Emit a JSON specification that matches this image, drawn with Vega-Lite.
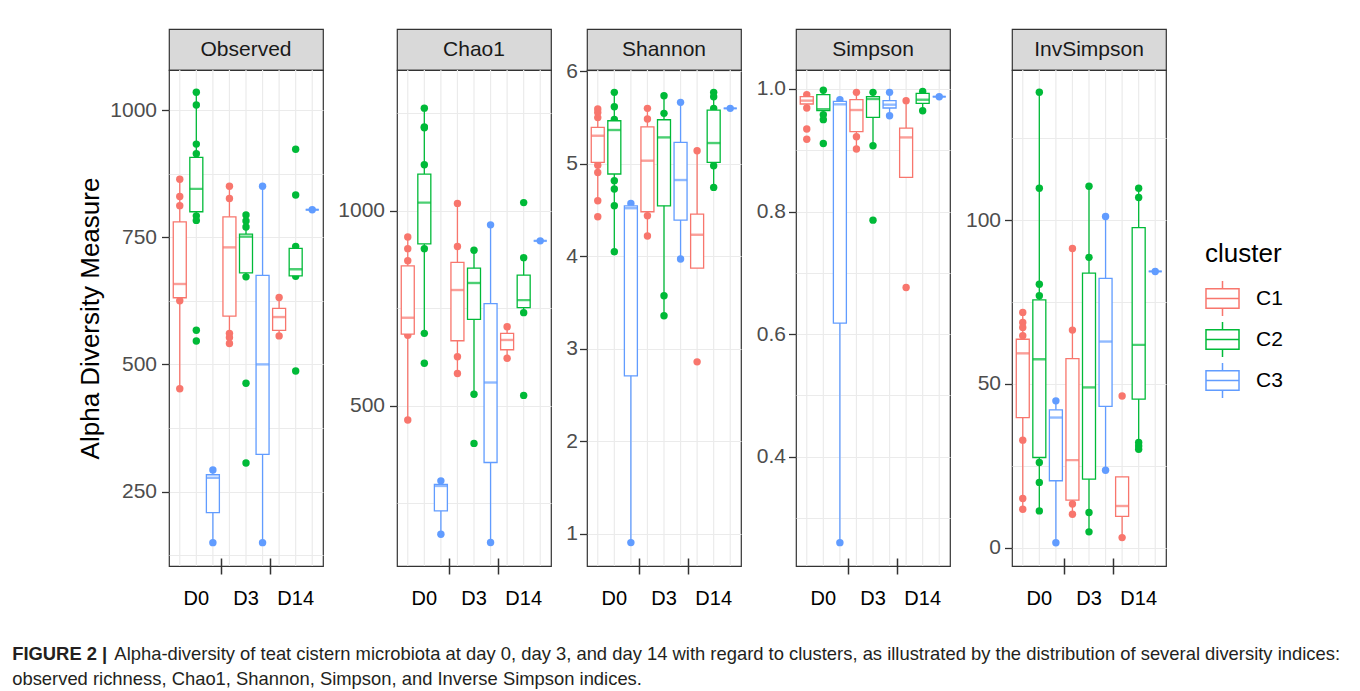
{
"$schema": "https://vega.github.io/schema/vega-lite/v6.json",
"padding": {"left": 12, "top": 28, "right": 5, "bottom": 5},
"background": "white",
"datasets": {
"box": [
{"m":"Observed","day":"D0","cl":"C1","lo":452,"q1":631,"md":658,"q3":780,"hi":864},
{"m":"Observed","day":"D0","cl":"C2","lo":783,"q1":800,"md":845,"q3":907,"hi":1035},
{"m":"Observed","day":"D0","cl":"C3","lo":149.5,"q1":208.5,"md":277,"q3":283,"hi":292.5},
{"m":"Observed","day":"D3","cl":"C1","lo":541,"q1":595,"md":730,"q3":790,"hi":850},
{"m":"Observed","day":"D3","cl":"C2","lo":672,"q1":680,"md":751,"q3":756,"hi":793.5},
{"m":"Observed","day":"D3","cl":"C3","lo":149.5,"q1":323,"md":500,"q3":675,"hi":850},
{"m":"Observed","day":"D14","cl":"C1","lo":556,"q1":567,"md":593,"q3":610,"hi":631.5},
{"m":"Observed","day":"D14","cl":"C2","lo":673,"q1":674,"md":687,"q3":728,"hi":732},
{"m":"Observed","day":"D14","cl":"C3","lo":804,"q1":804,"md":804,"q3":804,"hi":804},
{"m":"Chao1","day":"D0","cl":"C1","lo":464,"q1":684,"md":726,"q3":859,"hi":940},
{"m":"Chao1","day":"D0","cl":"C2","lo":686,"q1":915,"md":1021,"q3":1094,"hi":1263},
{"m":"Chao1","day":"D0","cl":"C3","lo":171,"q1":231,"md":295,"q3":299,"hi":308},
{"m":"Chao1","day":"D3","cl":"C1","lo":583,"q1":667,"md":797,"q3":868,"hi":1019},
{"m":"Chao1","day":"D3","cl":"C2","lo":530,"q1":722,"md":815,"q3":853,"hi":899},
{"m":"Chao1","day":"D3","cl":"C3","lo":150,"q1":355,"md":560,"q3":762,"hi":964},
{"m":"Chao1","day":"D14","cl":"C1","lo":622,"q1":644,"md":669,"q3":686,"hi":703},
{"m":"Chao1","day":"D14","cl":"C2","lo":739,"q1":752,"md":771,"q3":835,"hi":880},
{"m":"Chao1","day":"D14","cl":"C3","lo":923,"q1":923,"md":923,"q3":923,"hi":923},
{"m":"Shannon","day":"D0","cl":"C1","lo":4.6,"q1":5.015,"md":5.304,"q3":5.394,"hi":5.593},
{"m":"Shannon","day":"D0","cl":"C2","lo":4.049,"q1":4.89,"md":5.366,"q3":5.466,"hi":5.773},
{"m":"Shannon","day":"D0","cl":"C3","lo":0.903,"q1":2.707,"md":4.52,"q3":4.546,"hi":4.571},
{"m":"Shannon","day":"D3","cl":"C1","lo":4.22,"q1":4.482,"md":5.034,"q3":5.4,"hi":5.6},
{"m":"Shannon","day":"D3","cl":"C2","lo":3.356,"q1":4.546,"md":5.286,"q3":5.477,"hi":5.737},
{"m":"Shannon","day":"D3","cl":"C3","lo":3.97,"q1":4.392,"md":4.825,"q3":5.232,"hi":5.665},
{"m":"Shannon","day":"D14","cl":"C1","lo":3.872,"q1":3.872,"md":4.233,"q3":4.457,"hi":5.142},
{"m":"Shannon","day":"D14","cl":"C2","lo":4.745,"q1":5.015,"md":5.225,"q3":5.582,"hi":5.773},
{"m":"Shannon","day":"D14","cl":"C3","lo":5.6,"q1":5.6,"md":5.6,"q3":5.6,"hi":5.6},
{"m":"Simpson","day":"D0","cl":"C1","lo":0.969,"q1":0.9755,"md":0.981,"q3":0.9874,"hi":0.9907},
{"m":"Simpson","day":"D0","cl":"C2","lo":0.95,"q1":0.9646,"md":0.967,"q3":0.9907,"hi":0.998},
{"m":"Simpson","day":"D0","cl":"C3","lo":0.2598,"q1":0.618,"md":0.975,"q3":0.9798,"hi":0.9825},
{"m":"Simpson","day":"D3","cl":"C1","lo":0.902,"q1":0.9303,"md":0.9657,"q3":0.9825,"hi":0.9945},
{"m":"Simpson","day":"D3","cl":"C2","lo":0.9074,"q1":0.9536,"md":0.9837,"q3":0.9874,"hi":0.9945},
{"m":"Simpson","day":"D3","cl":"C3","lo":0.9564,"q1":0.969,"md":0.9744,"q3":0.981,"hi":0.9945},
{"m":"Simpson","day":"D14","cl":"C1","lo":0.8557,"q1":0.8557,"md":0.921,"q3":0.9363,"hi":0.981},
{"m":"Simpson","day":"D14","cl":"C2","lo":0.9646,"q1":0.9765,"md":0.9825,"q3":0.9929,"hi":0.996},
{"m":"Simpson","day":"D14","cl":"C3","lo":0.9874,"q1":0.9874,"md":0.9874,"q3":0.9874,"hi":0.9874},
{"m":"InvSimpson","day":"D0","cl":"C1","lo":11.7,"q1":39.7,"md":59.3,"q3":63.6,"hi":71.8},
{"m":"InvSimpson","day":"D0","cl":"C2","lo":11.2,"q1":27.5,"md":57.5,"q3":75.6,"hi":139},
{"m":"InvSimpson","day":"D0","cl":"C3","lo":1.5,"q1":20.4,"md":39.7,"q3":42.05,"hi":44.8},
{"m":"InvSimpson","day":"D3","cl":"C1","lo":10.2,"q1":14.5,"md":26.7,"q3":57.7,"hi":91.3},
{"m":"InvSimpson","day":"D3","cl":"C2","lo":4.8,"q1":20.9,"md":48.9,"q3":83.8,"hi":110.3},
{"m":"InvSimpson","day":"D3","cl":"C3","lo":23.6,"q1":43.1,"md":62.9,"q3":82.2,"hi":101.1},
{"m":"InvSimpson","day":"D14","cl":"C1","lo":3.05,"q1":9.5,"md":12.7,"q3":21.6,"hi":21.6},
{"m":"InvSimpson","day":"D14","cl":"C2","lo":30,"q1":45.3,"md":61.9,"q3":97.7,"hi":109.7},
{"m":"InvSimpson","day":"D14","cl":"C3","lo":84.3,"q1":84.3,"md":84.3,"q3":84.3,"hi":84.3}
],
"pts": [
{"m":"Observed","day":"D0","cl":"C1","v":864},{"m":"Observed","day":"D0","cl":"C1","v":830},{"m":"Observed","day":"D0","cl":"C1","v":812},{"m":"Observed","day":"D0","cl":"C1","v":625},{"m":"Observed","day":"D0","cl":"C1","v":452},
{"m":"Observed","day":"D0","cl":"C2","v":1035},{"m":"Observed","day":"D0","cl":"C2","v":1010},{"m":"Observed","day":"D0","cl":"C2","v":933},{"m":"Observed","day":"D0","cl":"C2","v":914},{"m":"Observed","day":"D0","cl":"C2","v":792},{"m":"Observed","day":"D0","cl":"C2","v":783},{"m":"Observed","day":"D0","cl":"C2","v":567},{"m":"Observed","day":"D0","cl":"C2","v":546},
{"m":"Observed","day":"D0","cl":"C3","v":292.5},{"m":"Observed","day":"D0","cl":"C3","v":149.5},
{"m":"Observed","day":"D3","cl":"C1","v":850},{"m":"Observed","day":"D3","cl":"C1","v":826},{"m":"Observed","day":"D3","cl":"C1","v":561},{"m":"Observed","day":"D3","cl":"C1","v":553},{"m":"Observed","day":"D3","cl":"C1","v":541},
{"m":"Observed","day":"D3","cl":"C2","v":793.5},{"m":"Observed","day":"D3","cl":"C2","v":782},{"m":"Observed","day":"D3","cl":"C2","v":770},{"m":"Observed","day":"D3","cl":"C2","v":672},{"m":"Observed","day":"D3","cl":"C2","v":463},{"m":"Observed","day":"D3","cl":"C2","v":306},
{"m":"Observed","day":"D3","cl":"C3","v":850},{"m":"Observed","day":"D3","cl":"C3","v":149.5},
{"m":"Observed","day":"D14","cl":"C1","v":631.5},{"m":"Observed","day":"D14","cl":"C1","v":556},
{"m":"Observed","day":"D14","cl":"C2","v":923},{"m":"Observed","day":"D14","cl":"C2","v":833},{"m":"Observed","day":"D14","cl":"C2","v":732},{"m":"Observed","day":"D14","cl":"C2","v":673},{"m":"Observed","day":"D14","cl":"C2","v":487},
{"m":"Observed","day":"D14","cl":"C3","v":804},
{"m":"Chao1","day":"D0","cl":"C1","v":933},{"m":"Chao1","day":"D0","cl":"C1","v":903},{"m":"Chao1","day":"D0","cl":"C1","v":872},{"m":"Chao1","day":"D0","cl":"C1","v":681},{"m":"Chao1","day":"D0","cl":"C1","v":464},
{"m":"Chao1","day":"D0","cl":"C2","v":1263},{"m":"Chao1","day":"D0","cl":"C2","v":1215},{"m":"Chao1","day":"D0","cl":"C2","v":1213},{"m":"Chao1","day":"D0","cl":"C2","v":1118},{"m":"Chao1","day":"D0","cl":"C2","v":903},{"m":"Chao1","day":"D0","cl":"C2","v":686},{"m":"Chao1","day":"D0","cl":"C2","v":609.5},
{"m":"Chao1","day":"D0","cl":"C3","v":308},{"m":"Chao1","day":"D0","cl":"C3","v":171},
{"m":"Chao1","day":"D3","cl":"C1","v":1019},{"m":"Chao1","day":"D3","cl":"C1","v":908.5},{"m":"Chao1","day":"D3","cl":"C1","v":626},{"m":"Chao1","day":"D3","cl":"C1","v":583},
{"m":"Chao1","day":"D3","cl":"C2","v":899},{"m":"Chao1","day":"D3","cl":"C2","v":530},{"m":"Chao1","day":"D3","cl":"C2","v":404},
{"m":"Chao1","day":"D3","cl":"C3","v":964},{"m":"Chao1","day":"D3","cl":"C3","v":150},
{"m":"Chao1","day":"D14","cl":"C1","v":703},{"m":"Chao1","day":"D14","cl":"C1","v":622},
{"m":"Chao1","day":"D14","cl":"C2","v":1021},{"m":"Chao1","day":"D14","cl":"C2","v":880},{"m":"Chao1","day":"D14","cl":"C2","v":739},{"m":"Chao1","day":"D14","cl":"C2","v":527},
{"m":"Chao1","day":"D14","cl":"C3","v":923},
{"m":"Shannon","day":"D0","cl":"C1","v":5.593},{"m":"Shannon","day":"D0","cl":"C1","v":5.556},{"m":"Shannon","day":"D0","cl":"C1","v":5.5},{"m":"Shannon","day":"D0","cl":"C1","v":4.985},{"m":"Shannon","day":"D0","cl":"C1","v":4.907},{"m":"Shannon","day":"D0","cl":"C1","v":4.6},{"m":"Shannon","day":"D0","cl":"C1","v":4.427},
{"m":"Shannon","day":"D0","cl":"C2","v":5.773},{"m":"Shannon","day":"D0","cl":"C2","v":5.618},{"m":"Shannon","day":"D0","cl":"C2","v":5.48},{"m":"Shannon","day":"D0","cl":"C2","v":4.817},{"m":"Shannon","day":"D0","cl":"C2","v":4.727},{"m":"Shannon","day":"D0","cl":"C2","v":4.546},{"m":"Shannon","day":"D0","cl":"C2","v":4.049},
{"m":"Shannon","day":"D0","cl":"C3","v":4.571},{"m":"Shannon","day":"D0","cl":"C3","v":0.903},
{"m":"Shannon","day":"D3","cl":"C1","v":5.6},{"m":"Shannon","day":"D3","cl":"C1","v":5.485},{"m":"Shannon","day":"D3","cl":"C1","v":4.438},{"m":"Shannon","day":"D3","cl":"C1","v":4.22},
{"m":"Shannon","day":"D3","cl":"C2","v":5.737},{"m":"Shannon","day":"D3","cl":"C2","v":5.546},{"m":"Shannon","day":"D3","cl":"C2","v":3.573},{"m":"Shannon","day":"D3","cl":"C2","v":3.356},
{"m":"Shannon","day":"D3","cl":"C3","v":5.665},{"m":"Shannon","day":"D3","cl":"C3","v":3.97},
{"m":"Shannon","day":"D14","cl":"C1","v":5.142},{"m":"Shannon","day":"D14","cl":"C1","v":2.858},
{"m":"Shannon","day":"D14","cl":"C2","v":5.773},{"m":"Shannon","day":"D14","cl":"C2","v":5.726},{"m":"Shannon","day":"D14","cl":"C2","v":5.6},{"m":"Shannon","day":"D14","cl":"C2","v":4.98},{"m":"Shannon","day":"D14","cl":"C2","v":4.745},
{"m":"Shannon","day":"D14","cl":"C3","v":5.6},
{"m":"Simpson","day":"D0","cl":"C1","v":0.9907},{"m":"Simpson","day":"D0","cl":"C1","v":0.969},{"m":"Simpson","day":"D0","cl":"C1","v":0.9347},{"m":"Simpson","day":"D0","cl":"C1","v":0.918},
{"m":"Simpson","day":"D0","cl":"C2","v":0.998},{"m":"Simpson","day":"D0","cl":"C2","v":0.958},{"m":"Simpson","day":"D0","cl":"C2","v":0.95},{"m":"Simpson","day":"D0","cl":"C2","v":0.9112},
{"m":"Simpson","day":"D0","cl":"C3","v":0.9825},{"m":"Simpson","day":"D0","cl":"C3","v":0.2598},
{"m":"Simpson","day":"D3","cl":"C1","v":0.9945},{"m":"Simpson","day":"D3","cl":"C1","v":0.922},{"m":"Simpson","day":"D3","cl":"C1","v":0.902},
{"m":"Simpson","day":"D3","cl":"C2","v":0.9945},{"m":"Simpson","day":"D3","cl":"C2","v":0.9074},{"m":"Simpson","day":"D3","cl":"C2","v":0.786},
{"m":"Simpson","day":"D3","cl":"C3","v":0.9945},{"m":"Simpson","day":"D3","cl":"C3","v":0.9564},
{"m":"Simpson","day":"D14","cl":"C1","v":0.981},{"m":"Simpson","day":"D14","cl":"C1","v":0.676},
{"m":"Simpson","day":"D14","cl":"C2","v":0.996},{"m":"Simpson","day":"D14","cl":"C2","v":0.9646},
{"m":"Simpson","day":"D14","cl":"C3","v":0.9874},
{"m":"InvSimpson","day":"D0","cl":"C1","v":71.8},{"m":"InvSimpson","day":"D0","cl":"C1","v":68.7},{"m":"InvSimpson","day":"D0","cl":"C1","v":67.2},{"m":"InvSimpson","day":"D0","cl":"C1","v":64.7},{"m":"InvSimpson","day":"D0","cl":"C1","v":32.8},{"m":"InvSimpson","day":"D0","cl":"C1","v":15},{"m":"InvSimpson","day":"D0","cl":"C1","v":11.7},
{"m":"InvSimpson","day":"D0","cl":"C2","v":139},{"m":"InvSimpson","day":"D0","cl":"C2","v":109.7},{"m":"InvSimpson","day":"D0","cl":"C2","v":80.4},{"m":"InvSimpson","day":"D0","cl":"C2","v":76.9},{"m":"InvSimpson","day":"D0","cl":"C2","v":26},{"m":"InvSimpson","day":"D0","cl":"C2","v":19.9},{"m":"InvSimpson","day":"D0","cl":"C2","v":11.2},
{"m":"InvSimpson","day":"D0","cl":"C3","v":44.8},{"m":"InvSimpson","day":"D0","cl":"C3","v":1.5},
{"m":"InvSimpson","day":"D3","cl":"C1","v":91.3},{"m":"InvSimpson","day":"D3","cl":"C1","v":66.4},{"m":"InvSimpson","day":"D3","cl":"C1","v":13.3},{"m":"InvSimpson","day":"D3","cl":"C1","v":10.2},
{"m":"InvSimpson","day":"D3","cl":"C2","v":110.3},{"m":"InvSimpson","day":"D3","cl":"C2","v":88.6},{"m":"InvSimpson","day":"D3","cl":"C2","v":10.7},{"m":"InvSimpson","day":"D3","cl":"C2","v":4.8},
{"m":"InvSimpson","day":"D3","cl":"C3","v":101.1},{"m":"InvSimpson","day":"D3","cl":"C3","v":23.6},
{"m":"InvSimpson","day":"D14","cl":"C1","v":46.3},{"m":"InvSimpson","day":"D14","cl":"C1","v":3.05},
{"m":"InvSimpson","day":"D14","cl":"C2","v":109.7},{"m":"InvSimpson","day":"D14","cl":"C2","v":106.9},{"m":"InvSimpson","day":"D14","cl":"C2","v":32.1},{"m":"InvSimpson","day":"D14","cl":"C2","v":31},{"m":"InvSimpson","day":"D14","cl":"C2","v":30},
{"m":"InvSimpson","day":"D14","cl":"C3","v":84.3}
]
},
"title": {
"text": "FIGURE 2 |",
"subtitle": ["\u200b\u00a0\u00a0\u00a0\u00a0\u00a0\u00a0\u00a0\u00a0\u00a0\u00a0\u00a0\u00a0\u00a0\u00a0\u00a0\u00a0\u00a0\u00a0\u00a0\u00a0Alpha-diversity of teat cistern microbiota at day 0, day 3, and day 14 with regard to clusters, as illustrated by the distribution of several diversity indices:", "observed richness, Chao1, Shannon, Simpson, and Inverse Simpson indices."],
"orient": "bottom", "anchor": "start", "frame": "bounds", "dx": -65, "offset": 36,
"fontSize": 18.4, "fontWeight": "bold", "font": "Liberation Sans", "color": "#231f20",
"subtitleFontSize": 18.4, "subtitleFont": "Liberation Sans", "subtitleColor": "#231f20", "subtitleFontWeight": "normal", "subtitleLineHeight": 25, "subtitlePadding": -18.4
},
"spacing": 13,
"hconcat": [
{"spacing": 0, "bounds": "flush", "vconcat": [
 {"width": 154, "height": 41, "view": {"fill": "#d9d9d9", "stroke": "#333333", "strokeWidth": 1.2},
  "data": {"values": [{"label": "Observed"}]},
  "mark": {"type": "text", "fontSize": 21, "color": "#1a1a1a", "font": "Liberation Sans"},
  "encoding": {"text": {"field": "label"}}},
 {"width": 154, "height": 496, "view": {"stroke": "#333333", "strokeWidth": 1.2},
  "encoding": {
   "x": {"field": "day", "type": "nominal", "sort": ["D0","D3","D14"], "title": null, "scale": {"paddingInner": 0, "paddingOuter": 0.05},
     "axis": {"grid": false, "domain": false, "bandPosition": 1, "tickSize": 16, "offset": -8, "tickColor": "#333333", "tickWidth": 1.5, "labelPadding": 14, "labelFontSize": 20, "labelColor": "#000000", "labelAngle": 0, "tickOpacity": {"condition": {"test": "datum.value == 'D14'", "value": 0}, "value": 1}}},
   "xOffset": {"field": "cl", "type": "nominal", "sort": ["C1","C2","C3"], "scale": {"paddingInner": 0, "paddingOuter": 0}}
  },
  "layer": [
   {"data": {"name": "box"}, "transform": [{"filter": "datum.m == 'Observed'"}], "mark": {"type": "rule", "color": "#ebebeb", "strokeWidth": 1.2}, "encoding": {}},
   {"data": {"name": "pts"}, "transform": [{"filter": "datum.m == 'Observed'"}], "mark": {"type": "circle", "size": 55, "opacity": 1},
    "encoding": {"y": {"field": "v", "type": "quantitative", "scale": {"domain": [103.6, 1078.7], "nice": false, "zero": false},
      "axis": {"title": "Alpha Diversity Measure", "titleFontSize": 26, "titleFontWeight": "normal", "titleColor": "#000000", "titlePadding": 6, "values": [125,250,375,500,625,750,875,1000], "format": "d", "labelExpr": "datum.value % 250 == 0 ? datum.label : ''", "labelOverlap": false, "tickOpacity": {"condition": {"test": "datum.value % 250 != 0", "value": 0}, "value": 1}, "domain": false, "tickSize": 7.5, "tickColor": "#333333", "tickWidth": 1.3, "labelFontSize": 21, "labelColor": "#4d4d4d", "labelPadding": 5, "grid": true, "gridColor": "#ebebeb", "gridWidth": 1.2}},
     "color": {"field": "cl", "type": "nominal", "scale": {"range": ["#F8766D","#00BA38","#619CFF"]}, "legend": null}}},
   {"data": {"name": "box"}, "transform": [{"filter": "datum.m == 'Observed'"}], "mark": {"type": "rule", "strokeWidth": 1.3},
    "encoding": {"y": {"field": "lo", "type": "quantitative", "scale": {"domain": [103.6, 1078.7], "nice": false, "zero": false}}, "y2": {"field": "hi"},
     "color": {"field": "cl", "type": "nominal", "scale": {"range": ["#F8766D","#00BA38","#619CFF"]}, "legend": null}}},
   {"data": {"name": "box"}, "transform": [{"filter": "datum.m == 'Observed'"}], "mark": {"type": "bar", "fill": "white", "strokeWidth": 1.3, "width": 13},
    "encoding": {"y": {"field": "q1", "type": "quantitative", "scale": {"domain": [103.6, 1078.7], "nice": false, "zero": false}}, "y2": {"field": "q3"},
     "stroke": {"field": "cl", "type": "nominal", "scale": {"domain": ["C1","C2","C3"], "range": ["#F8766D","#00BA38","#619CFF"]},
      "legend": {"title": "cluster", "orient": "none", "legendX": 1036, "legendY": 212, "symbolType": "M-1,-0.59H1V0.59H-1Z M-1,0H1 M0,-0.59V-1.06 M0,0.59V1.06", "symbolSize": 1090, "symbolStrokeWidth": 1.5, "symbolFillColor": "#ffffff", "titleFontSize": 26, "titleFontWeight": "normal", "titleColor": "#000000", "labelFontSize": 21, "labelColor": "#000000", "labelOffset": 16, "rowPadding": 0, "titlePadding": 14}}}},
   {"data": {"name": "box"}, "transform": [{"filter": "datum.m == 'Observed'"}], "mark": {"type": "tick", "orient": "horizontal", "size": 13, "thickness": 2.4},
    "encoding": {"y": {"field": "md", "type": "quantitative", "scale": {"domain": [103.6, 1078.7], "nice": false, "zero": false}},
     "color": {"field": "cl", "type": "nominal", "scale": {"range": ["#F8766D","#00BA38","#619CFF"]}, "legend": null}}}
  ]}
]},
{"spacing": 0, "bounds": "flush", "vconcat": [
 {"width": 154, "height": 41, "view": {"fill": "#d9d9d9", "stroke": "#333333", "strokeWidth": 1.2},
  "data": {"values": [{"label": "Chao1"}]},
  "mark": {"type": "text", "fontSize": 21, "color": "#1a1a1a", "font": "Liberation Sans"},
  "encoding": {"text": {"field": "label"}}},
 {"width": 154, "height": 496, "view": {"stroke": "#333333", "strokeWidth": 1.2},
  "encoding": {
   "x": {"field": "day", "type": "nominal", "sort": ["D0","D3","D14"], "title": null, "scale": {"paddingInner": 0, "paddingOuter": 0.05},
     "axis": {"grid": false, "domain": false, "bandPosition": 1, "tickSize": 16, "offset": -8, "tickColor": "#333333", "tickWidth": 1.5, "labelPadding": 14, "labelFontSize": 20, "labelColor": "#000000", "labelAngle": 0, "tickOpacity": {"condition": {"test": "datum.value == 'D14'", "value": 0}, "value": 1}}},
   "xOffset": {"field": "cl", "type": "nominal", "sort": ["C1","C2","C3"], "scale": {"paddingInner": 0, "paddingOuter": 0}}
  },
  "layer": [
   {"data": {"name": "box"}, "transform": [{"filter": "datum.m == 'Chao1'"}], "mark": {"type": "rule", "color": "#ebebeb", "strokeWidth": 1.2}, "encoding": {}},
   {"data": {"name": "pts"}, "transform": [{"filter": "datum.m == 'Chao1'"}], "mark": {"type": "circle", "size": 55, "opacity": 1},
    "encoding": {"y": {"field": "v", "type": "quantitative", "scale": {"domain": [89.8, 1360.8], "nice": false, "zero": false},
      "axis": {"title": null, "values": [250,500,750,1000,1250], "format": "d", "labelExpr": "datum.value % 500 == 0 ? datum.label : ''", "labelOverlap": false, "tickOpacity": {"condition": {"test": "datum.value % 500 != 0", "value": 0}, "value": 1}, "domain": false, "tickSize": 7.5, "tickColor": "#333333", "tickWidth": 1.3, "labelFontSize": 21, "labelColor": "#4d4d4d", "labelPadding": 5, "grid": true, "gridColor": "#ebebeb", "gridWidth": 1.2}},
     "color": {"field": "cl", "type": "nominal", "scale": {"range": ["#F8766D","#00BA38","#619CFF"]}, "legend": null}}},
   {"data": {"name": "box"}, "transform": [{"filter": "datum.m == 'Chao1'"}], "mark": {"type": "rule", "strokeWidth": 1.3},
    "encoding": {"y": {"field": "lo", "type": "quantitative", "scale": {"domain": [89.8, 1360.8], "nice": false, "zero": false}}, "y2": {"field": "hi"},
     "color": {"field": "cl", "type": "nominal", "scale": {"range": ["#F8766D","#00BA38","#619CFF"]}, "legend": null}}},
   {"data": {"name": "box"}, "transform": [{"filter": "datum.m == 'Chao1'"}], "mark": {"type": "bar", "fill": "white", "strokeWidth": 1.3, "width": 13},
    "encoding": {"y": {"field": "q1", "type": "quantitative", "scale": {"domain": [89.8, 1360.8], "nice": false, "zero": false}}, "y2": {"field": "q3"},
     "stroke": {"field": "cl", "type": "nominal", "scale": {"domain": ["C1","C2","C3"], "range": ["#F8766D","#00BA38","#619CFF"]}}}},
   {"data": {"name": "box"}, "transform": [{"filter": "datum.m == 'Chao1'"}], "mark": {"type": "tick", "orient": "horizontal", "size": 13, "thickness": 2.4},
    "encoding": {"y": {"field": "md", "type": "quantitative", "scale": {"domain": [89.8, 1360.8], "nice": false, "zero": false}},
     "color": {"field": "cl", "type": "nominal", "scale": {"range": ["#F8766D","#00BA38","#619CFF"]}, "legend": null}}}
  ]}
]},
{"spacing": 0, "bounds": "flush", "vconcat": [
 {"width": 154, "height": 41, "view": {"fill": "#d9d9d9", "stroke": "#333333", "strokeWidth": 1.2},
  "data": {"values": [{"label": "Shannon"}]},
  "mark": {"type": "text", "fontSize": 21, "color": "#1a1a1a", "font": "Liberation Sans"},
  "encoding": {"text": {"field": "label"}}},
 {"width": 154, "height": 496, "view": {"stroke": "#333333", "strokeWidth": 1.2},
  "encoding": {
   "x": {"field": "day", "type": "nominal", "sort": ["D0","D3","D14"], "title": null, "scale": {"paddingInner": 0, "paddingOuter": 0.05},
     "axis": {"grid": false, "domain": false, "bandPosition": 1, "tickSize": 16, "offset": -8, "tickColor": "#333333", "tickWidth": 1.5, "labelPadding": 14, "labelFontSize": 20, "labelColor": "#000000", "labelAngle": 0, "tickOpacity": {"condition": {"test": "datum.value == 'D14'", "value": 0}, "value": 1}}},
   "xOffset": {"field": "cl", "type": "nominal", "sort": ["C1","C2","C3"], "scale": {"paddingInner": 0, "paddingOuter": 0}}
  },
  "layer": [
   {"data": {"name": "box"}, "transform": [{"filter": "datum.m == 'Shannon'"}], "mark": {"type": "rule", "color": "#ebebeb", "strokeWidth": 1.2}, "encoding": {}},
   {"data": {"name": "pts"}, "transform": [{"filter": "datum.m == 'Shannon'"}], "mark": {"type": "circle", "size": 55, "opacity": 1},
    "encoding": {"y": {"field": "v", "type": "quantitative", "scale": {"domain": [0.65, 6.015], "nice": false, "zero": false},
      "axis": {"title": null, "values": [1,1.5,2,2.5,3,3.5,4,4.5,5,5.5,6], "format": "d", "labelExpr": "datum.value % 1 == 0 ? datum.label : ''", "labelOverlap": false, "tickOpacity": {"condition": {"test": "datum.value % 1 != 0", "value": 0}, "value": 1}, "domain": false, "tickSize": 7.5, "tickColor": "#333333", "tickWidth": 1.3, "labelFontSize": 21, "labelColor": "#4d4d4d", "labelPadding": 2, "grid": true, "gridColor": "#ebebeb", "gridWidth": 1.2}},
     "color": {"field": "cl", "type": "nominal", "scale": {"range": ["#F8766D","#00BA38","#619CFF"]}, "legend": null}}},
   {"data": {"name": "box"}, "transform": [{"filter": "datum.m == 'Shannon'"}], "mark": {"type": "rule", "strokeWidth": 1.3},
    "encoding": {"y": {"field": "lo", "type": "quantitative", "scale": {"domain": [0.65, 6.015], "nice": false, "zero": false}}, "y2": {"field": "hi"},
     "color": {"field": "cl", "type": "nominal", "scale": {"range": ["#F8766D","#00BA38","#619CFF"]}, "legend": null}}},
   {"data": {"name": "box"}, "transform": [{"filter": "datum.m == 'Shannon'"}], "mark": {"type": "bar", "fill": "white", "strokeWidth": 1.3, "width": 13},
    "encoding": {"y": {"field": "q1", "type": "quantitative", "scale": {"domain": [0.65, 6.015], "nice": false, "zero": false}}, "y2": {"field": "q3"},
     "stroke": {"field": "cl", "type": "nominal", "scale": {"domain": ["C1","C2","C3"], "range": ["#F8766D","#00BA38","#619CFF"]}}}},
   {"data": {"name": "box"}, "transform": [{"filter": "datum.m == 'Shannon'"}], "mark": {"type": "tick", "orient": "horizontal", "size": 13, "thickness": 2.4},
    "encoding": {"y": {"field": "md", "type": "quantitative", "scale": {"domain": [0.65, 6.015], "nice": false, "zero": false}},
     "color": {"field": "cl", "type": "nominal", "scale": {"range": ["#F8766D","#00BA38","#619CFF"]}, "legend": null}}}
  ]}
]},
{"spacing": 0, "bounds": "flush", "vconcat": [
 {"width": 154, "height": 41, "view": {"fill": "#d9d9d9", "stroke": "#333333", "strokeWidth": 1.2},
  "data": {"values": [{"label": "Simpson"}]},
  "mark": {"type": "text", "fontSize": 21, "color": "#1a1a1a", "font": "Liberation Sans"},
  "encoding": {"text": {"field": "label"}}},
 {"width": 154, "height": 496, "view": {"stroke": "#333333", "strokeWidth": 1.2},
  "encoding": {
   "x": {"field": "day", "type": "nominal", "sort": ["D0","D3","D14"], "title": null, "scale": {"paddingInner": 0, "paddingOuter": 0.05},
     "axis": {"grid": false, "domain": false, "bandPosition": 1, "tickSize": 16, "offset": -8, "tickColor": "#333333", "tickWidth": 1.5, "labelPadding": 14, "labelFontSize": 20, "labelColor": "#000000", "labelAngle": 0, "tickOpacity": {"condition": {"test": "datum.value == 'D14'", "value": 0}, "value": 1}}},
   "xOffset": {"field": "cl", "type": "nominal", "sort": ["C1","C2","C3"], "scale": {"paddingInner": 0, "paddingOuter": 0}}
  },
  "layer": [
   {"data": {"name": "box"}, "transform": [{"filter": "datum.m == 'Simpson'"}], "mark": {"type": "rule", "color": "#ebebeb", "strokeWidth": 1.2}, "encoding": {}},
   {"data": {"name": "pts"}, "transform": [{"filter": "datum.m == 'Simpson'"}], "mark": {"type": "circle", "size": 55, "opacity": 1},
    "encoding": {"y": {"field": "v", "type": "quantitative", "scale": {"domain": [0.2217, 1.031], "nice": false, "zero": false},
      "axis": {"title": null, "values": [0.3,0.4,0.5,0.6,0.7,0.8,0.9,1.0], "format": ".1f", "labelExpr": "round(datum.value*10) % 2 == 0 ? datum.label : ''", "labelOverlap": false, "tickOpacity": {"condition": {"test": "round(datum.value*10) % 2 != 0", "value": 0}, "value": 1}, "domain": false, "tickSize": 7.5, "tickColor": "#333333", "tickWidth": 1.3, "labelFontSize": 21, "labelColor": "#4d4d4d", "labelPadding": 3, "grid": true, "gridColor": "#ebebeb", "gridWidth": 1.2}},
     "color": {"field": "cl", "type": "nominal", "scale": {"range": ["#F8766D","#00BA38","#619CFF"]}, "legend": null}}},
   {"data": {"name": "box"}, "transform": [{"filter": "datum.m == 'Simpson'"}], "mark": {"type": "rule", "strokeWidth": 1.3},
    "encoding": {"y": {"field": "lo", "type": "quantitative", "scale": {"domain": [0.2217, 1.031], "nice": false, "zero": false}}, "y2": {"field": "hi"},
     "color": {"field": "cl", "type": "nominal", "scale": {"range": ["#F8766D","#00BA38","#619CFF"]}, "legend": null}}},
   {"data": {"name": "box"}, "transform": [{"filter": "datum.m == 'Simpson'"}], "mark": {"type": "bar", "fill": "white", "strokeWidth": 1.3, "width": 13},
    "encoding": {"y": {"field": "q1", "type": "quantitative", "scale": {"domain": [0.2217, 1.031], "nice": false, "zero": false}}, "y2": {"field": "q3"},
     "stroke": {"field": "cl", "type": "nominal", "scale": {"domain": ["C1","C2","C3"], "range": ["#F8766D","#00BA38","#619CFF"]}}}},
   {"data": {"name": "box"}, "transform": [{"filter": "datum.m == 'Simpson'"}], "mark": {"type": "tick", "orient": "horizontal", "size": 13, "thickness": 2.4},
    "encoding": {"y": {"field": "md", "type": "quantitative", "scale": {"domain": [0.2217, 1.031], "nice": false, "zero": false}},
     "color": {"field": "cl", "type": "nominal", "scale": {"range": ["#F8766D","#00BA38","#619CFF"]}, "legend": null}}}
  ]}
]},
{"spacing": 0, "bounds": "flush", "vconcat": [
 {"width": 154, "height": 41, "view": {"fill": "#d9d9d9", "stroke": "#333333", "strokeWidth": 1.2},
  "data": {"values": [{"label": "InvSimpson"}]},
  "mark": {"type": "text", "fontSize": 21, "color": "#1a1a1a", "font": "Liberation Sans"},
  "encoding": {"text": {"field": "label"}}},
 {"width": 154, "height": 496, "view": {"stroke": "#333333", "strokeWidth": 1.2},
  "encoding": {
   "x": {"field": "day", "type": "nominal", "sort": ["D0","D3","D14"], "title": null, "scale": {"paddingInner": 0, "paddingOuter": 0.05},
     "axis": {"grid": false, "domain": false, "bandPosition": 1, "tickSize": 16, "offset": -8, "tickColor": "#333333", "tickWidth": 1.5, "labelPadding": 14, "labelFontSize": 20, "labelColor": "#000000", "labelAngle": 0, "tickOpacity": {"condition": {"test": "datum.value == 'D14'", "value": 0}, "value": 1}}},
   "xOffset": {"field": "cl", "type": "nominal", "sort": ["C1","C2","C3"], "scale": {"paddingInner": 0, "paddingOuter": 0}}
  },
  "layer": [
   {"data": {"name": "box"}, "transform": [{"filter": "datum.m == 'InvSimpson'"}], "mark": {"type": "rule", "color": "#ebebeb", "strokeWidth": 1.2}, "encoding": {}},
   {"data": {"name": "pts"}, "transform": [{"filter": "datum.m == 'InvSimpson'"}], "mark": {"type": "circle", "size": 55, "opacity": 1},
    "encoding": {"y": {"field": "v", "type": "quantitative", "scale": {"domain": [-5.62, 145.8], "nice": false, "zero": false},
      "axis": {"title": null, "values": [0,25,50,75,100,125], "format": "d", "labelExpr": "datum.value % 50 == 0 ? datum.label : ''", "labelOverlap": false, "tickOpacity": {"condition": {"test": "datum.value % 50 != 0", "value": 0}, "value": 1}, "domain": false, "tickSize": 7.5, "tickColor": "#333333", "tickWidth": 1.3, "labelFontSize": 21, "labelColor": "#4d4d4d", "labelPadding": 4, "grid": true, "gridColor": "#ebebeb", "gridWidth": 1.2}},
     "color": {"field": "cl", "type": "nominal", "scale": {"range": ["#F8766D","#00BA38","#619CFF"]}, "legend": null}}},
   {"data": {"name": "box"}, "transform": [{"filter": "datum.m == 'InvSimpson'"}], "mark": {"type": "rule", "strokeWidth": 1.3},
    "encoding": {"y": {"field": "lo", "type": "quantitative", "scale": {"domain": [-5.62, 145.8], "nice": false, "zero": false}}, "y2": {"field": "hi"},
     "color": {"field": "cl", "type": "nominal", "scale": {"range": ["#F8766D","#00BA38","#619CFF"]}, "legend": null}}},
   {"data": {"name": "box"}, "transform": [{"filter": "datum.m == 'InvSimpson'"}], "mark": {"type": "bar", "fill": "white", "strokeWidth": 1.3, "width": 13},
    "encoding": {"y": {"field": "q1", "type": "quantitative", "scale": {"domain": [-5.62, 145.8], "nice": false, "zero": false}}, "y2": {"field": "q3"},
     "stroke": {"field": "cl", "type": "nominal", "scale": {"domain": ["C1","C2","C3"], "range": ["#F8766D","#00BA38","#619CFF"]}}}},
   {"data": {"name": "box"}, "transform": [{"filter": "datum.m == 'InvSimpson'"}], "mark": {"type": "tick", "orient": "horizontal", "size": 13, "thickness": 2.4},
    "encoding": {"y": {"field": "md", "type": "quantitative", "scale": {"domain": [-5.62, 145.8], "nice": false, "zero": false}},
     "color": {"field": "cl", "type": "nominal", "scale": {"range": ["#F8766D","#00BA38","#619CFF"]}, "legend": null}}}
  ]}
]}
],
"config": {
 "font": "Liberation Sans",
 "axis": {"labelFont": "Liberation Sans", "titleFont": "Liberation Sans"},
 "legend": {"labelFont": "Liberation Sans", "titleFont": "Liberation Sans"}
}
}
